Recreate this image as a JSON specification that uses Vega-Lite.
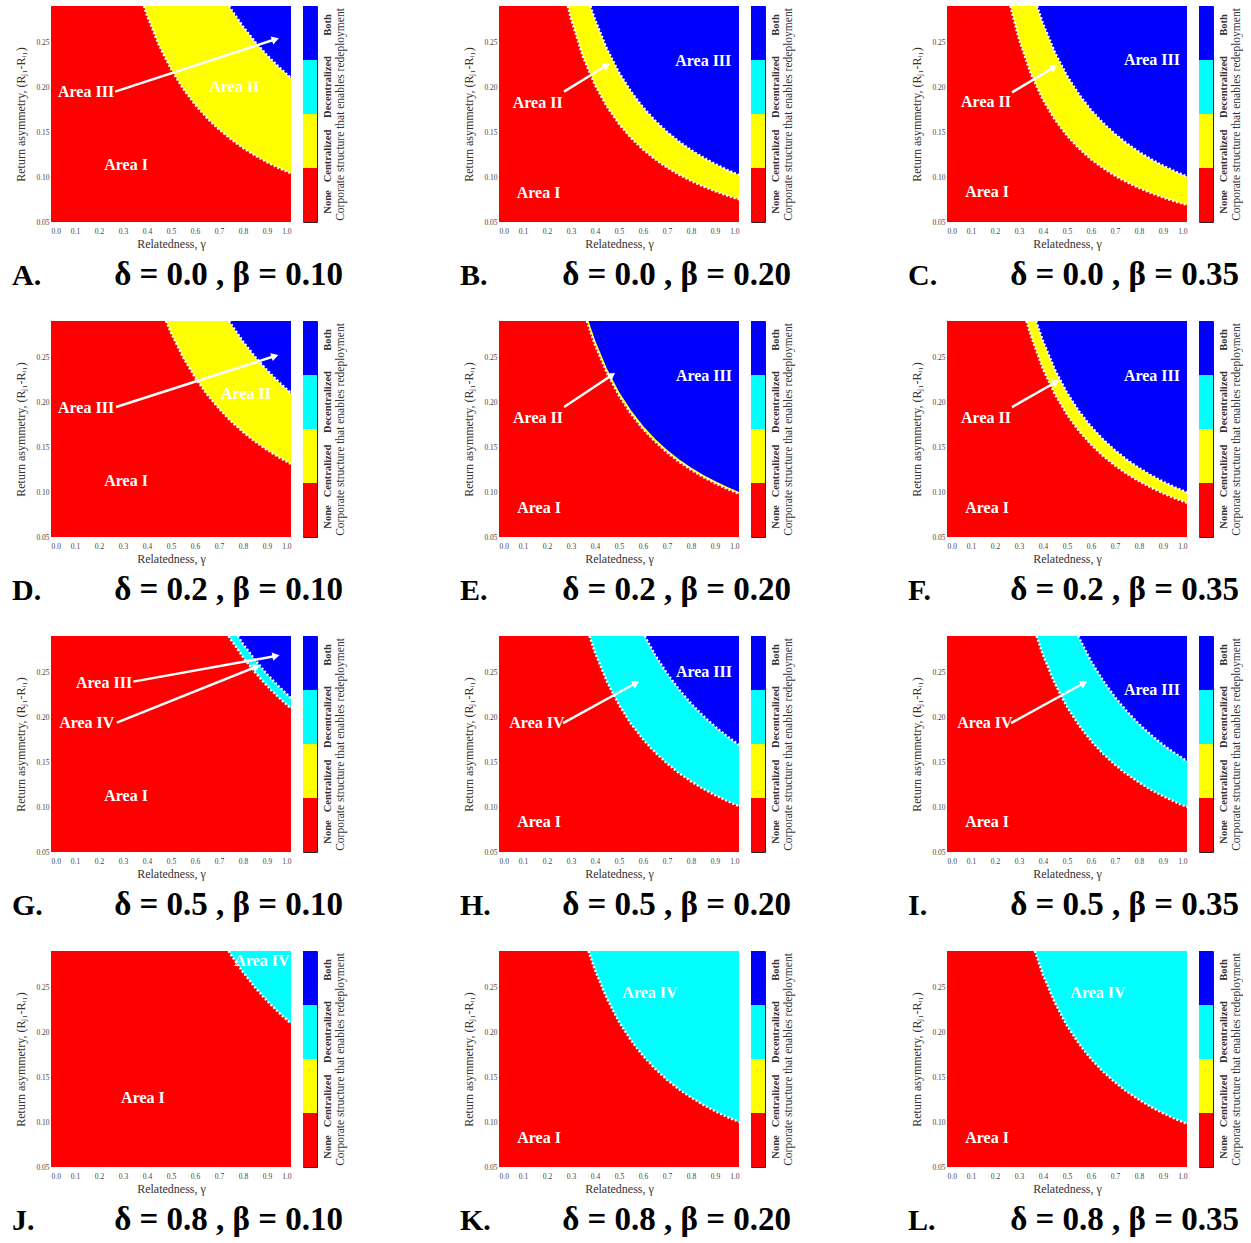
{
"$schema":"https://vega.github.io/schema/vega-lite/v6.json",
"background":"#ffffff",
"padding":{"left":12,"top":5,"right":0,"bottom":0},
"config":{"font":"Liberation Serif","view":{"stroke":null},
"axis":{"grid":false,"ticks":false,"domain":false,"labelOverlap":false,"labelFont":"Liberation Serif","titleFont":"Liberation Serif","labelColor":"#444444","titleColor":"#333333","titleFontWeight":"normal"},
"axisBottom":{"labelFontSize":7.5,"labelPadding":5,"titleFontSize":12,"titlePadding":4},
"axisLeft":{"labelFontSize":7.5,"labelPadding":2,"titleFontSize":12,"titlePadding":8},
"axisRight":{"labelFontSize":10.5,"labelFontWeight":"bold","labelAngle":270,"labelAlign":"center","labelBaseline":"top","labelPadding":5,"labelColor":"#333333","titleFontSize":11.5,"titleAngle":270,"titleBaseline":"top","titlePadding":2}},
"datasets":{
"structures":[{"s":"None"},{"s":"Centralized"},{"s":"Decentralized"},{"s":"Both"}],
"curves":[
{"p":"A","c":1,"x":0.387,"y":0.29},{"p":"A","c":1,"x":0.4,"y":0.2798},{"p":"A","c":1,"x":0.45,"y":0.2464},{"p":"A","c":1,"x":0.5,"y":0.2199},{"p":"A","c":1,"x":0.55,"y":0.1983},{"p":"A","c":1,"x":0.6,"y":0.1805},{"p":"A","c":1,"x":0.65,"y":0.1656},{"p":"A","c":1,"x":0.7,"y":0.1529},{"p":"A","c":1,"x":0.75,"y":0.1419},{"p":"A","c":1,"x":0.8,"y":0.1323},{"p":"A","c":1,"x":0.85,"y":0.1239},{"p":"A","c":1,"x":0.9,"y":0.1165},{"p":"A","c":1,"x":0.95,"y":0.1099},{"p":"A","c":1,"x":1,"y":0.104},
{"p":"A","c":2,"x":0.742,"y":0.29},{"p":"A","c":2,"x":0.75,"y":0.2865},{"p":"A","c":2,"x":0.8,"y":0.2672},{"p":"A","c":2,"x":0.85,"y":0.2503},{"p":"A","c":2,"x":0.9,"y":0.2353},{"p":"A","c":2,"x":0.95,"y":0.222},{"p":"A","c":2,"x":1,"y":0.21},
{"p":"B","c":1,"x":0.287,"y":0.29},{"p":"B","c":1,"x":0.3,"y":0.276},{"p":"B","c":1,"x":0.35,"y":0.2336},{"p":"B","c":1,"x":0.4,"y":0.2023},{"p":"B","c":1,"x":0.45,"y":0.1781},{"p":"B","c":1,"x":0.5,"y":0.159},{"p":"B","c":1,"x":0.55,"y":0.1434},{"p":"B","c":1,"x":0.6,"y":0.1305},{"p":"B","c":1,"x":0.65,"y":0.1198},{"p":"B","c":1,"x":0.7,"y":0.1105},{"p":"B","c":1,"x":0.75,"y":0.1026},{"p":"B","c":1,"x":0.8,"y":0.0957},{"p":"B","c":1,"x":0.85,"y":0.0896},{"p":"B","c":1,"x":0.9,"y":0.0843},{"p":"B","c":1,"x":0.95,"y":0.0795},{"p":"B","c":1,"x":1,"y":0.0752},
{"p":"B","c":2,"x":0.381,"y":0.29},{"p":"B","c":2,"x":0.4,"y":0.2749},{"p":"B","c":2,"x":0.45,"y":0.2421},{"p":"B","c":2,"x":0.5,"y":0.2161},{"p":"B","c":2,"x":0.55,"y":0.1949},{"p":"B","c":2,"x":0.6,"y":0.1774},{"p":"B","c":2,"x":0.65,"y":0.1628},{"p":"B","c":2,"x":0.7,"y":0.1502},{"p":"B","c":2,"x":0.75,"y":0.1394},{"p":"B","c":2,"x":0.8,"y":0.13},{"p":"B","c":2,"x":0.85,"y":0.1218},{"p":"B","c":2,"x":0.9,"y":0.1145},{"p":"B","c":2,"x":0.95,"y":0.108},{"p":"B","c":2,"x":1,"y":0.1022},
{"p":"C","c":1,"x":0.265,"y":0.29},{"p":"C","c":1,"x":0.27,"y":0.2838},{"p":"C","c":1,"x":0.3,"y":0.2532},{"p":"C","c":1,"x":0.35,"y":0.2144},{"p":"C","c":1,"x":0.4,"y":0.1856},{"p":"C","c":1,"x":0.45,"y":0.1635},{"p":"C","c":1,"x":0.5,"y":0.1459},{"p":"C","c":1,"x":0.55,"y":0.1316},{"p":"C","c":1,"x":0.6,"y":0.1198},{"p":"C","c":1,"x":0.65,"y":0.1099},{"p":"C","c":1,"x":0.7,"y":0.1014},{"p":"C","c":1,"x":0.75,"y":0.0941},{"p":"C","c":1,"x":0.8,"y":0.0878},{"p":"C","c":1,"x":0.85,"y":0.0822},{"p":"C","c":1,"x":0.9,"y":0.0773},{"p":"C","c":1,"x":0.95,"y":0.0729},{"p":"C","c":1,"x":1,"y":0.069},
{"p":"C","c":2,"x":0.375,"y":0.29},{"p":"C","c":2,"x":0.4,"y":0.2703},{"p":"C","c":2,"x":0.45,"y":0.2381},{"p":"C","c":2,"x":0.5,"y":0.2125},{"p":"C","c":2,"x":0.55,"y":0.1917},{"p":"C","c":2,"x":0.6,"y":0.1745},{"p":"C","c":2,"x":0.65,"y":0.16},{"p":"C","c":2,"x":0.7,"y":0.1477},{"p":"C","c":2,"x":0.75,"y":0.1371},{"p":"C","c":2,"x":0.8,"y":0.1279},{"p":"C","c":2,"x":0.85,"y":0.1198},{"p":"C","c":2,"x":0.9,"y":0.1126},{"p":"C","c":2,"x":0.95,"y":0.1062},{"p":"C","c":2,"x":1,"y":0.1005},
{"p":"D","c":1,"x":0.479,"y":0.29},{"p":"D","c":1,"x":0.5,"y":0.2769},{"p":"D","c":1,"x":0.55,"y":0.2498},{"p":"D","c":1,"x":0.6,"y":0.2274},{"p":"D","c":1,"x":0.65,"y":0.2086},{"p":"D","c":1,"x":0.7,"y":0.1926},{"p":"D","c":1,"x":0.75,"y":0.1787},{"p":"D","c":1,"x":0.8,"y":0.1667},{"p":"D","c":1,"x":0.85,"y":0.1561},{"p":"D","c":1,"x":0.9,"y":0.1468},{"p":"D","c":1,"x":0.95,"y":0.1385},{"p":"D","c":1,"x":1,"y":0.131},
{"p":"D","c":2,"x":0.742,"y":0.29},{"p":"D","c":2,"x":0.75,"y":0.2865},{"p":"D","c":2,"x":0.8,"y":0.2672},{"p":"D","c":2,"x":0.85,"y":0.2503},{"p":"D","c":2,"x":0.9,"y":0.2353},{"p":"D","c":2,"x":0.95,"y":0.222},{"p":"D","c":2,"x":1,"y":0.21},
{"p":"E","c":1,"x":0.366,"y":0.29},{"p":"E","c":1,"x":0.4,"y":0.2636},{"p":"E","c":1,"x":0.45,"y":0.2322},{"p":"E","c":1,"x":0.5,"y":0.2072},{"p":"E","c":1,"x":0.55,"y":0.1869},{"p":"E","c":1,"x":0.6,"y":0.1701},{"p":"E","c":1,"x":0.65,"y":0.1561},{"p":"E","c":1,"x":0.7,"y":0.1441},{"p":"E","c":1,"x":0.75,"y":0.1337},{"p":"E","c":1,"x":0.8,"y":0.1247},{"p":"E","c":1,"x":0.85,"y":0.1168},{"p":"E","c":1,"x":0.9,"y":0.1098},{"p":"E","c":1,"x":0.95,"y":0.1036},{"p":"E","c":1,"x":1,"y":0.098},
{"p":"E","c":2,"x":0.373,"y":0.29},{"p":"E","c":2,"x":0.4,"y":0.269},{"p":"E","c":2,"x":0.45,"y":0.2369},{"p":"E","c":2,"x":0.5,"y":0.2114},{"p":"E","c":2,"x":0.55,"y":0.1907},{"p":"E","c":2,"x":0.6,"y":0.1736},{"p":"E","c":2,"x":0.65,"y":0.1593},{"p":"E","c":2,"x":0.7,"y":0.147},{"p":"E","c":2,"x":0.75,"y":0.1364},{"p":"E","c":2,"x":0.8,"y":0.1273},{"p":"E","c":2,"x":0.85,"y":0.1192},{"p":"E","c":2,"x":0.9,"y":0.1121},{"p":"E","c":2,"x":0.95,"y":0.1057},{"p":"E","c":2,"x":1,"y":0.1},
{"p":"F","c":1,"x":0.331,"y":0.29},{"p":"F","c":1,"x":0.35,"y":0.2734},{"p":"F","c":1,"x":0.4,"y":0.2367},{"p":"F","c":1,"x":0.45,"y":0.2085},{"p":"F","c":1,"x":0.5,"y":0.186},{"p":"F","c":1,"x":0.55,"y":0.1678},{"p":"F","c":1,"x":0.6,"y":0.1528},{"p":"F","c":1,"x":0.65,"y":0.1401},{"p":"F","c":1,"x":0.7,"y":0.1294},{"p":"F","c":1,"x":0.75,"y":0.1201},{"p":"F","c":1,"x":0.8,"y":0.112},{"p":"F","c":1,"x":0.85,"y":0.1049},{"p":"F","c":1,"x":0.9,"y":0.0986},{"p":"F","c":1,"x":0.95,"y":0.093},{"p":"F","c":1,"x":1,"y":0.088},
{"p":"F","c":2,"x":0.371,"y":0.29},{"p":"F","c":2,"x":0.4,"y":0.2677},{"p":"F","c":2,"x":0.45,"y":0.2357},{"p":"F","c":2,"x":0.5,"y":0.2103},{"p":"F","c":2,"x":0.55,"y":0.1897},{"p":"F","c":2,"x":0.6,"y":0.1727},{"p":"F","c":2,"x":0.65,"y":0.1585},{"p":"F","c":2,"x":0.7,"y":0.1463},{"p":"F","c":2,"x":0.75,"y":0.1358},{"p":"F","c":2,"x":0.8,"y":0.1266},{"p":"F","c":2,"x":0.85,"y":0.1186},{"p":"F","c":2,"x":0.9,"y":0.1115},{"p":"F","c":2,"x":0.95,"y":0.1052},{"p":"F","c":2,"x":1,"y":0.0995},
{"p":"G","c":1,"x":0.74,"y":0.29},{"p":"G","c":1,"x":0.75,"y":0.2858},{"p":"G","c":1,"x":0.8,"y":0.2666},{"p":"G","c":1,"x":0.85,"y":0.2497},{"p":"G","c":1,"x":0.9,"y":0.2347},{"p":"G","c":1,"x":0.95,"y":0.2214},{"p":"G","c":1,"x":1,"y":0.2095},
{"p":"G","c":2,"x":0.778,"y":0.29},{"p":"G","c":2,"x":0.8,"y":0.2812},{"p":"G","c":2,"x":0.85,"y":0.2634},{"p":"G","c":2,"x":0.9,"y":0.2476},{"p":"G","c":2,"x":0.95,"y":0.2336},{"p":"G","c":2,"x":1,"y":0.221},
{"p":"H","c":1,"x":0.377,"y":0.29},{"p":"H","c":1,"x":0.4,"y":0.2717},{"p":"H","c":1,"x":0.45,"y":0.2393},{"p":"H","c":1,"x":0.5,"y":0.2135},{"p":"H","c":1,"x":0.55,"y":0.1926},{"p":"H","c":1,"x":0.6,"y":0.1753},{"p":"H","c":1,"x":0.65,"y":0.1608},{"p":"H","c":1,"x":0.7,"y":0.1485},{"p":"H","c":1,"x":0.75,"y":0.1378},{"p":"H","c":1,"x":0.8,"y":0.1285},{"p":"H","c":1,"x":0.85,"y":0.1204},{"p":"H","c":1,"x":0.9,"y":0.1132},{"p":"H","c":1,"x":0.95,"y":0.1068},{"p":"H","c":1,"x":1,"y":0.101},
{"p":"H","c":2,"x":0.607,"y":0.29},{"p":"H","c":2,"x":0.65,"y":0.2691},{"p":"H","c":2,"x":0.7,"y":0.2484},{"p":"H","c":2,"x":0.75,"y":0.2306},{"p":"H","c":2,"x":0.8,"y":0.2151},{"p":"H","c":2,"x":0.85,"y":0.2014},{"p":"H","c":2,"x":0.9,"y":0.1894},{"p":"H","c":2,"x":0.95,"y":0.1786},{"p":"H","c":2,"x":1,"y":0.169},
{"p":"I","c":1,"x":0.373,"y":0.29},{"p":"I","c":1,"x":0.4,"y":0.269},{"p":"I","c":1,"x":0.45,"y":0.2369},{"p":"I","c":1,"x":0.5,"y":0.2114},{"p":"I","c":1,"x":0.55,"y":0.1907},{"p":"I","c":1,"x":0.6,"y":0.1736},{"p":"I","c":1,"x":0.65,"y":0.1593},{"p":"I","c":1,"x":0.7,"y":0.147},{"p":"I","c":1,"x":0.75,"y":0.1364},{"p":"I","c":1,"x":0.8,"y":0.1273},{"p":"I","c":1,"x":0.85,"y":0.1192},{"p":"I","c":1,"x":0.9,"y":0.1121},{"p":"I","c":1,"x":0.95,"y":0.1057},{"p":"I","c":1,"x":1,"y":0.1},
{"p":"I","c":2,"x":0.547,"y":0.29},{"p":"I","c":2,"x":0.55,"y":0.288},{"p":"I","c":2,"x":0.6,"y":0.2621},{"p":"I","c":2,"x":0.65,"y":0.2405},{"p":"I","c":2,"x":0.7,"y":0.222},{"p":"I","c":2,"x":0.75,"y":0.206},{"p":"I","c":2,"x":0.8,"y":0.1921},{"p":"I","c":2,"x":0.85,"y":0.18},{"p":"I","c":2,"x":0.9,"y":0.1692},{"p":"I","c":2,"x":0.95,"y":0.1596},{"p":"I","c":2,"x":1,"y":0.151},
{"p":"J","c":1,"x":0.74,"y":0.29},{"p":"J","c":1,"x":0.75,"y":0.2858},{"p":"J","c":1,"x":0.8,"y":0.2666},{"p":"J","c":1,"x":0.85,"y":0.2497},{"p":"J","c":1,"x":0.9,"y":0.2347},{"p":"J","c":1,"x":0.95,"y":0.2214},{"p":"J","c":1,"x":1,"y":0.2095},
{"p":"K","c":1,"x":0.373,"y":0.29},{"p":"K","c":1,"x":0.4,"y":0.269},{"p":"K","c":1,"x":0.45,"y":0.2369},{"p":"K","c":1,"x":0.5,"y":0.2114},{"p":"K","c":1,"x":0.55,"y":0.1907},{"p":"K","c":1,"x":0.6,"y":0.1736},{"p":"K","c":1,"x":0.65,"y":0.1593},{"p":"K","c":1,"x":0.7,"y":0.147},{"p":"K","c":1,"x":0.75,"y":0.1364},{"p":"K","c":1,"x":0.8,"y":0.1273},{"p":"K","c":1,"x":0.85,"y":0.1192},{"p":"K","c":1,"x":0.9,"y":0.1121},{"p":"K","c":1,"x":0.95,"y":0.1057},{"p":"K","c":1,"x":1,"y":0.1},
{"p":"L","c":1,"x":0.366,"y":0.29},{"p":"L","c":1,"x":0.4,"y":0.2636},{"p":"L","c":1,"x":0.45,"y":0.2322},{"p":"L","c":1,"x":0.5,"y":0.2072},{"p":"L","c":1,"x":0.55,"y":0.1869},{"p":"L","c":1,"x":0.6,"y":0.1701},{"p":"L","c":1,"x":0.65,"y":0.1561},{"p":"L","c":1,"x":0.7,"y":0.1441},{"p":"L","c":1,"x":0.75,"y":0.1337},{"p":"L","c":1,"x":0.8,"y":0.1247},{"p":"L","c":1,"x":0.85,"y":0.1168},{"p":"L","c":1,"x":0.9,"y":0.1098},{"p":"L","c":1,"x":0.95,"y":0.1036},{"p":"L","c":1,"x":1,"y":0.098}
],
"labels":[
{"p":"A","t":"Area III","x":0.146,"y":0.1948},{"p":"A","t":"Area II","x":0.764,"y":0.2},{"p":"A","t":"Area I","x":0.3125,"y":0.113},
{"p":"B","t":"Area III","x":0.851,"y":0.2289},{"p":"B","t":"Area II","x":0.161,"y":0.1826},{"p":"B","t":"Area I","x":0.165,"y":0.0819},
{"p":"C","t":"Area III","x":0.854,"y":0.23},{"p":"C","t":"Area II","x":0.1625,"y":0.1833},{"p":"C","t":"Area I","x":0.1667,"y":0.0833},
{"p":"D","t":"Area III","x":0.146,"y":0.1933},{"p":"D","t":"Area II","x":0.8125,"y":0.2089},{"p":"D","t":"Area I","x":0.3125,"y":0.1122},
{"p":"E","t":"Area III","x":0.854,"y":0.2289},{"p":"E","t":"Area II","x":0.1625,"y":0.1822},{"p":"E","t":"Area I","x":0.1667,"y":0.0822},
{"p":"F","t":"Area III","x":0.854,"y":0.2289},{"p":"F","t":"Area II","x":0.1625,"y":0.1822},{"p":"F","t":"Area I","x":0.1667,"y":0.0822},
{"p":"G","t":"Area III","x":0.221,"y":0.2374},{"p":"G","t":"Area IV","x":0.149,"y":0.1937},{"p":"G","t":"Area I","x":0.3125,"y":0.1126},
{"p":"H","t":"Area III","x":0.854,"y":0.25},{"p":"H","t":"Area IV","x":0.158,"y":0.1933},{"p":"H","t":"Area I","x":0.1667,"y":0.0833},
{"p":"I","t":"Area III","x":0.854,"y":0.23},{"p":"I","t":"Area IV","x":0.158,"y":0.1933},{"p":"I","t":"Area I","x":0.1667,"y":0.0833},
{"p":"J","t":"Area IV","x":0.879,"y":0.2789},{"p":"J","t":"Area I","x":0.383,"y":0.1267},
{"p":"K","t":"Area IV","x":0.629,"y":0.2433},{"p":"K","t":"Area I","x":0.1667,"y":0.0822},
{"p":"L","t":"Area IV","x":0.629,"y":0.2433},{"p":"L","t":"Area I","x":0.1667,"y":0.0822}
],
"arrows":[
{"p":"A","a":1,"x":0.267,"y":0.1948,"x2":0.935,"y2":0.253},
{"p":"B","a":1,"x":0.271,"y":0.1948,"x2":0.449,"y2":0.2241},
{"p":"C","a":1,"x":0.271,"y":0.194,"x2":0.446,"y2":0.222},
{"p":"D","a":1,"x":0.271,"y":0.1944,"x2":0.933,"y2":0.2511},
{"p":"E","a":1,"x":0.271,"y":0.1944,"x2":0.471,"y2":0.23},
{"p":"F","a":1,"x":0.271,"y":0.1944,"x2":0.454,"y2":0.2222},
{"p":"G","a":1,"x":0.343,"y":0.2393,"x2":0.9375,"y2":0.2678},
{"p":"G","a":2,"x":0.274,"y":0.1937,"x2":0.857,"y2":0.2559},
{"p":"H","a":1,"x":0.267,"y":0.1933,"x2":0.571,"y2":0.2378},
{"p":"I","a":1,"x":0.267,"y":0.1933,"x2":0.571,"y2":0.2378}
],
"captions":[
{"p":"A","letter":"A.","param":"δ = 0.0 ,  β = 0.10"},
{"p":"B","letter":"B.","param":"δ = 0.0 ,  β = 0.20"},
{"p":"C","letter":"C.","param":"δ = 0.0 ,  β = 0.35"},
{"p":"D","letter":"D.","param":"δ = 0.2 ,  β = 0.10"},
{"p":"E","letter":"E.","param":"δ = 0.2 ,  β = 0.20"},
{"p":"F","letter":"F.","param":"δ = 0.2 ,  β = 0.35"},
{"p":"G","letter":"G.","param":"δ = 0.5 ,  β = 0.10"},
{"p":"H","letter":"H.","param":"δ = 0.5 ,  β = 0.20"},
{"p":"I","letter":"I.","param":"δ = 0.5 ,  β = 0.35"},
{"p":"J","letter":"J.","param":"δ = 0.8 ,  β = 0.10"},
{"p":"K","letter":"K.","param":"δ = 0.8 ,  β = 0.20"},
{"p":"L","letter":"L.","param":"δ = 0.8 ,  β = 0.35"}
]
},
"vconcat":[
{"hconcat":[
{"hconcat":[
{"width":240,"height":216,"view":{"fill":"#ff0000","stroke":null},"layer":[
{"data":{"name":"curves"},"transform":[{"filter":"datum.p=='A' && datum.c==1"}],"mark":{"type":"area","color":"#ffff00","clip":true},"encoding":{"x":{"field":"x","type":"quantitative","scale":{"domain":[0,1],"nice":false,"zero":false},"axis":{"values":[0,0.1,0.2,0.3,0.4,0.5,0.6,0.7,0.8,0.9,1],"tickCount":11,"format":".1f","labelOverlap":false,"title":"Relatedness, γ"}},"y":{"field":"y","type":"quantitative","scale":{"domain":[0.05,0.29],"nice":false,"zero":false},"axis":{"values":[0.05,0.1,0.15,0.2,0.25],"tickCount":5,"format":".2f","labelOverlap":false,"title":"Return asymmetry, (Rⱼ₁-Rᵢ₁)"}},"y2":{"datum":0.29}}},
{"data":{"name":"curves"},"transform":[{"filter":"datum.p=='A' && datum.c==2"}],"mark":{"type":"area","color":"#0000ff","clip":true},"encoding":{"x":{"field":"x","type":"quantitative"},"y":{"field":"y","type":"quantitative"},"y2":{"datum":0.29}}},
{"data":{"name":"curves"},"transform":[{"filter":"datum.p=='A'"}],"mark":{"type":"line","color":"#ffffff","strokeDash":[2,2],"strokeWidth":2.5,"clip":true},"encoding":{"x":{"field":"x","type":"quantitative"},"y":{"field":"y","type":"quantitative"},"detail":{"field":"c"}}},
{"data":{"name":"arrows"},"transform":[{"filter":"datum.p=='A'"}],"mark":{"type":"rule","color":"#ffffff","strokeWidth":2.5},"encoding":{"x":{"field":"x","type":"quantitative"},"y":{"field":"y","type":"quantitative"},"x2":{"field":"x2"},"y2":{"field":"y2"}}},
{"data":{"name":"arrows"},"transform":[{"filter":"datum.p=='A'"}],"mark":{"type":"point","shape":"triangle-right","filled":true,"color":"#ffffff","opacity":1,"size":70,"angle":-18},"encoding":{"x":{"field":"x2","type":"quantitative"},"y":{"field":"y2","type":"quantitative"}}},
{"data":{"name":"labels"},"transform":[{"filter":"datum.p=='A'"}],"mark":{"type":"text","fontSize":16,"fontWeight":"bold","color":"#ffffff"},"encoding":{"x":{"field":"x","type":"quantitative"},"y":{"field":"y","type":"quantitative"},"text":{"field":"t"}}},
{"data":{"name":"captions"},"transform":[{"filter":"datum.p=='A'"}],"mark":{"type":"text","fontSize":30,"fontWeight":"bold","color":"#000000","align":"left","baseline":"alphabetic"},"encoding":{"x":{"datum":-0.1625},"y":{"datum":-0.02},"text":{"field":"letter"}}},
{"data":{"name":"captions"},"transform":[{"filter":"datum.p=='A'"}],"mark":{"type":"text","fontSize":33,"fontWeight":"bold","color":"#000000","align":"right","baseline":"alphabetic"},"encoding":{"x":{"datum":1.2167},"y":{"datum":-0.02},"text":{"field":"param"}}}
]},
{"width":14,"height":216,"data":{"name":"structures"},"view":{"stroke":"#222222","strokeWidth":1},"mark":{"type":"rect"},"encoding":{"y":{"field":"s","type":"nominal","sort":["Both","Decentralized","Centralized","None"],"scale":{"paddingInner":0,"paddingOuter":0},"axis":{"orient":"right","title":"Corporate structure that enables redeployment","labelOffset":{"condition":[{"test":"datum.value==='None'","value":7},{"test":"datum.value==='Centralized'","value":15},{"test":"datum.value==='Both'","value":-8}],"value":0}}},"color":{"field":"s","type":"nominal","scale":{"domain":["None","Centralized","Decentralized","Both"],"range":["#ff0000","#ffff00","#00ffff","#0000ff"]},"legend":null}}}
],"spacing":12,"bounds":"flush"},
{"hconcat":[
{"width":240,"height":216,"view":{"fill":"#ff0000","stroke":null},"layer":[
{"data":{"name":"curves"},"transform":[{"filter":"datum.p=='B' && datum.c==1"}],"mark":{"type":"area","color":"#ffff00","clip":true},"encoding":{"x":{"field":"x","type":"quantitative","scale":{"domain":[0,1],"nice":false,"zero":false},"axis":{"values":[0,0.1,0.2,0.3,0.4,0.5,0.6,0.7,0.8,0.9,1],"tickCount":11,"format":".1f","labelOverlap":false,"title":"Relatedness, γ"}},"y":{"field":"y","type":"quantitative","scale":{"domain":[0.05,0.29],"nice":false,"zero":false},"axis":{"values":[0.05,0.1,0.15,0.2,0.25],"tickCount":5,"format":".2f","labelOverlap":false,"title":"Return asymmetry, (Rⱼ₁-Rᵢ₁)"}},"y2":{"datum":0.29}}},
{"data":{"name":"curves"},"transform":[{"filter":"datum.p=='B' && datum.c==2"}],"mark":{"type":"area","color":"#0000ff","clip":true},"encoding":{"x":{"field":"x","type":"quantitative"},"y":{"field":"y","type":"quantitative"},"y2":{"datum":0.29}}},
{"data":{"name":"curves"},"transform":[{"filter":"datum.p=='B'"}],"mark":{"type":"line","color":"#ffffff","strokeDash":[2,2],"strokeWidth":2.5,"clip":true},"encoding":{"x":{"field":"x","type":"quantitative"},"y":{"field":"y","type":"quantitative"},"detail":{"field":"c"}}},
{"data":{"name":"arrows"},"transform":[{"filter":"datum.p=='B'"}],"mark":{"type":"rule","color":"#ffffff","strokeWidth":2.5},"encoding":{"x":{"field":"x","type":"quantitative"},"y":{"field":"y","type":"quantitative"},"x2":{"field":"x2"},"y2":{"field":"y2"}}},
{"data":{"name":"arrows"},"transform":[{"filter":"datum.p=='B'"}],"mark":{"type":"point","shape":"triangle-right","filled":true,"color":"#ffffff","opacity":1,"size":70,"angle":-32},"encoding":{"x":{"field":"x2","type":"quantitative"},"y":{"field":"y2","type":"quantitative"}}},
{"data":{"name":"labels"},"transform":[{"filter":"datum.p=='B'"}],"mark":{"type":"text","fontSize":16,"fontWeight":"bold","color":"#ffffff"},"encoding":{"x":{"field":"x","type":"quantitative"},"y":{"field":"y","type":"quantitative"},"text":{"field":"t"}}},
{"data":{"name":"captions"},"transform":[{"filter":"datum.p=='B'"}],"mark":{"type":"text","fontSize":30,"fontWeight":"bold","color":"#000000","align":"left","baseline":"alphabetic"},"encoding":{"x":{"datum":-0.1625},"y":{"datum":-0.02},"text":{"field":"letter"}}},
{"data":{"name":"captions"},"transform":[{"filter":"datum.p=='B'"}],"mark":{"type":"text","fontSize":33,"fontWeight":"bold","color":"#000000","align":"right","baseline":"alphabetic"},"encoding":{"x":{"datum":1.2167},"y":{"datum":-0.02},"text":{"field":"param"}}}
]},
{"width":14,"height":216,"data":{"name":"structures"},"view":{"stroke":"#222222","strokeWidth":1},"mark":{"type":"rect"},"encoding":{"y":{"field":"s","type":"nominal","sort":["Both","Decentralized","Centralized","None"],"scale":{"paddingInner":0,"paddingOuter":0},"axis":{"orient":"right","title":"Corporate structure that enables redeployment","labelOffset":{"condition":[{"test":"datum.value==='None'","value":7},{"test":"datum.value==='Centralized'","value":15},{"test":"datum.value==='Both'","value":-8}],"value":0}}},"color":{"field":"s","type":"nominal","scale":{"domain":["None","Centralized","Decentralized","Both"],"range":["#ff0000","#ffff00","#00ffff","#0000ff"]},"legend":null}}}
],"spacing":12,"bounds":"flush"},
{"hconcat":[
{"width":240,"height":216,"view":{"fill":"#ff0000","stroke":null},"layer":[
{"data":{"name":"curves"},"transform":[{"filter":"datum.p=='C' && datum.c==1"}],"mark":{"type":"area","color":"#ffff00","clip":true},"encoding":{"x":{"field":"x","type":"quantitative","scale":{"domain":[0,1],"nice":false,"zero":false},"axis":{"values":[0,0.1,0.2,0.3,0.4,0.5,0.6,0.7,0.8,0.9,1],"tickCount":11,"format":".1f","labelOverlap":false,"title":"Relatedness, γ"}},"y":{"field":"y","type":"quantitative","scale":{"domain":[0.05,0.29],"nice":false,"zero":false},"axis":{"values":[0.05,0.1,0.15,0.2,0.25],"tickCount":5,"format":".2f","labelOverlap":false,"title":"Return asymmetry, (Rⱼ₁-Rᵢ₁)"}},"y2":{"datum":0.29}}},
{"data":{"name":"curves"},"transform":[{"filter":"datum.p=='C' && datum.c==2"}],"mark":{"type":"area","color":"#0000ff","clip":true},"encoding":{"x":{"field":"x","type":"quantitative"},"y":{"field":"y","type":"quantitative"},"y2":{"datum":0.29}}},
{"data":{"name":"curves"},"transform":[{"filter":"datum.p=='C'"}],"mark":{"type":"line","color":"#ffffff","strokeDash":[2,2],"strokeWidth":2.5,"clip":true},"encoding":{"x":{"field":"x","type":"quantitative"},"y":{"field":"y","type":"quantitative"},"detail":{"field":"c"}}},
{"data":{"name":"arrows"},"transform":[{"filter":"datum.p=='C'"}],"mark":{"type":"rule","color":"#ffffff","strokeWidth":2.5},"encoding":{"x":{"field":"x","type":"quantitative"},"y":{"field":"y","type":"quantitative"},"x2":{"field":"x2"},"y2":{"field":"y2"}}},
{"data":{"name":"arrows"},"transform":[{"filter":"datum.p=='C'"}],"mark":{"type":"point","shape":"triangle-right","filled":true,"color":"#ffffff","opacity":1,"size":70,"angle":-31},"encoding":{"x":{"field":"x2","type":"quantitative"},"y":{"field":"y2","type":"quantitative"}}},
{"data":{"name":"labels"},"transform":[{"filter":"datum.p=='C'"}],"mark":{"type":"text","fontSize":16,"fontWeight":"bold","color":"#ffffff"},"encoding":{"x":{"field":"x","type":"quantitative"},"y":{"field":"y","type":"quantitative"},"text":{"field":"t"}}},
{"data":{"name":"captions"},"transform":[{"filter":"datum.p=='C'"}],"mark":{"type":"text","fontSize":30,"fontWeight":"bold","color":"#000000","align":"left","baseline":"alphabetic"},"encoding":{"x":{"datum":-0.1625},"y":{"datum":-0.02},"text":{"field":"letter"}}},
{"data":{"name":"captions"},"transform":[{"filter":"datum.p=='C'"}],"mark":{"type":"text","fontSize":33,"fontWeight":"bold","color":"#000000","align":"right","baseline":"alphabetic"},"encoding":{"x":{"datum":1.2167},"y":{"datum":-0.02},"text":{"field":"param"}}}
]},
{"width":14,"height":216,"data":{"name":"structures"},"view":{"stroke":"#222222","strokeWidth":1},"mark":{"type":"rect"},"encoding":{"y":{"field":"s","type":"nominal","sort":["Both","Decentralized","Centralized","None"],"scale":{"paddingInner":0,"paddingOuter":0},"axis":{"orient":"right","title":"Corporate structure that enables redeployment","labelOffset":{"condition":[{"test":"datum.value==='None'","value":7},{"test":"datum.value==='Centralized'","value":15},{"test":"datum.value==='Both'","value":-8}],"value":0}}},"color":{"field":"s","type":"nominal","scale":{"domain":["None","Centralized","Decentralized","Both"],"range":["#ff0000","#ffff00","#00ffff","#0000ff"]},"legend":null}}}
],"spacing":12,"bounds":"flush"}
],"spacing":113},
{"hconcat":[
{"hconcat":[
{"width":240,"height":216,"view":{"fill":"#ff0000","stroke":null},"layer":[
{"data":{"name":"curves"},"transform":[{"filter":"datum.p=='D' && datum.c==1"}],"mark":{"type":"area","color":"#ffff00","clip":true},"encoding":{"x":{"field":"x","type":"quantitative","scale":{"domain":[0,1],"nice":false,"zero":false},"axis":{"values":[0,0.1,0.2,0.3,0.4,0.5,0.6,0.7,0.8,0.9,1],"tickCount":11,"format":".1f","labelOverlap":false,"title":"Relatedness, γ"}},"y":{"field":"y","type":"quantitative","scale":{"domain":[0.05,0.29],"nice":false,"zero":false},"axis":{"values":[0.05,0.1,0.15,0.2,0.25],"tickCount":5,"format":".2f","labelOverlap":false,"title":"Return asymmetry, (Rⱼ₁-Rᵢ₁)"}},"y2":{"datum":0.29}}},
{"data":{"name":"curves"},"transform":[{"filter":"datum.p=='D' && datum.c==2"}],"mark":{"type":"area","color":"#0000ff","clip":true},"encoding":{"x":{"field":"x","type":"quantitative"},"y":{"field":"y","type":"quantitative"},"y2":{"datum":0.29}}},
{"data":{"name":"curves"},"transform":[{"filter":"datum.p=='D'"}],"mark":{"type":"line","color":"#ffffff","strokeDash":[2,2],"strokeWidth":2.5,"clip":true},"encoding":{"x":{"field":"x","type":"quantitative"},"y":{"field":"y","type":"quantitative"},"detail":{"field":"c"}}},
{"data":{"name":"arrows"},"transform":[{"filter":"datum.p=='D'"}],"mark":{"type":"rule","color":"#ffffff","strokeWidth":2.5},"encoding":{"x":{"field":"x","type":"quantitative"},"y":{"field":"y","type":"quantitative"},"x2":{"field":"x2"},"y2":{"field":"y2"}}},
{"data":{"name":"arrows"},"transform":[{"filter":"datum.p=='D'"}],"mark":{"type":"point","shape":"triangle-right","filled":true,"color":"#ffffff","opacity":1,"size":70,"angle":-18},"encoding":{"x":{"field":"x2","type":"quantitative"},"y":{"field":"y2","type":"quantitative"}}},
{"data":{"name":"labels"},"transform":[{"filter":"datum.p=='D'"}],"mark":{"type":"text","fontSize":16,"fontWeight":"bold","color":"#ffffff"},"encoding":{"x":{"field":"x","type":"quantitative"},"y":{"field":"y","type":"quantitative"},"text":{"field":"t"}}},
{"data":{"name":"captions"},"transform":[{"filter":"datum.p=='D'"}],"mark":{"type":"text","fontSize":30,"fontWeight":"bold","color":"#000000","align":"left","baseline":"alphabetic"},"encoding":{"x":{"datum":-0.1625},"y":{"datum":-0.02},"text":{"field":"letter"}}},
{"data":{"name":"captions"},"transform":[{"filter":"datum.p=='D'"}],"mark":{"type":"text","fontSize":33,"fontWeight":"bold","color":"#000000","align":"right","baseline":"alphabetic"},"encoding":{"x":{"datum":1.2167},"y":{"datum":-0.02},"text":{"field":"param"}}}
]},
{"width":14,"height":216,"data":{"name":"structures"},"view":{"stroke":"#222222","strokeWidth":1},"mark":{"type":"rect"},"encoding":{"y":{"field":"s","type":"nominal","sort":["Both","Decentralized","Centralized","None"],"scale":{"paddingInner":0,"paddingOuter":0},"axis":{"orient":"right","title":"Corporate structure that enables redeployment","labelOffset":{"condition":[{"test":"datum.value==='None'","value":7},{"test":"datum.value==='Centralized'","value":15},{"test":"datum.value==='Both'","value":-8}],"value":0}}},"color":{"field":"s","type":"nominal","scale":{"domain":["None","Centralized","Decentralized","Both"],"range":["#ff0000","#ffff00","#00ffff","#0000ff"]},"legend":null}}}
],"spacing":12,"bounds":"flush"},
{"hconcat":[
{"width":240,"height":216,"view":{"fill":"#ff0000","stroke":null},"layer":[
{"data":{"name":"curves"},"transform":[{"filter":"datum.p=='E' && datum.c==1"}],"mark":{"type":"area","color":"#ffff00","clip":true},"encoding":{"x":{"field":"x","type":"quantitative","scale":{"domain":[0,1],"nice":false,"zero":false},"axis":{"values":[0,0.1,0.2,0.3,0.4,0.5,0.6,0.7,0.8,0.9,1],"tickCount":11,"format":".1f","labelOverlap":false,"title":"Relatedness, γ"}},"y":{"field":"y","type":"quantitative","scale":{"domain":[0.05,0.29],"nice":false,"zero":false},"axis":{"values":[0.05,0.1,0.15,0.2,0.25],"tickCount":5,"format":".2f","labelOverlap":false,"title":"Return asymmetry, (Rⱼ₁-Rᵢ₁)"}},"y2":{"datum":0.29}}},
{"data":{"name":"curves"},"transform":[{"filter":"datum.p=='E' && datum.c==2"}],"mark":{"type":"area","color":"#0000ff","clip":true},"encoding":{"x":{"field":"x","type":"quantitative"},"y":{"field":"y","type":"quantitative"},"y2":{"datum":0.29}}},
{"data":{"name":"curves"},"transform":[{"filter":"datum.p=='E' && datum.c==1"}],"mark":{"type":"line","color":"#ffffff","strokeDash":[2,2],"strokeWidth":2.5,"clip":true},"encoding":{"x":{"field":"x","type":"quantitative"},"y":{"field":"y","type":"quantitative"},"detail":{"field":"c"}}},
{"data":{"name":"arrows"},"transform":[{"filter":"datum.p=='E'"}],"mark":{"type":"rule","color":"#ffffff","strokeWidth":2.5},"encoding":{"x":{"field":"x","type":"quantitative"},"y":{"field":"y","type":"quantitative"},"x2":{"field":"x2"},"y2":{"field":"y2"}}},
{"data":{"name":"arrows"},"transform":[{"filter":"datum.p=='E'"}],"mark":{"type":"point","shape":"triangle-right","filled":true,"color":"#ffffff","opacity":1,"size":70,"angle":-34},"encoding":{"x":{"field":"x2","type":"quantitative"},"y":{"field":"y2","type":"quantitative"}}},
{"data":{"name":"labels"},"transform":[{"filter":"datum.p=='E'"}],"mark":{"type":"text","fontSize":16,"fontWeight":"bold","color":"#ffffff"},"encoding":{"x":{"field":"x","type":"quantitative"},"y":{"field":"y","type":"quantitative"},"text":{"field":"t"}}},
{"data":{"name":"captions"},"transform":[{"filter":"datum.p=='E'"}],"mark":{"type":"text","fontSize":30,"fontWeight":"bold","color":"#000000","align":"left","baseline":"alphabetic"},"encoding":{"x":{"datum":-0.1625},"y":{"datum":-0.02},"text":{"field":"letter"}}},
{"data":{"name":"captions"},"transform":[{"filter":"datum.p=='E'"}],"mark":{"type":"text","fontSize":33,"fontWeight":"bold","color":"#000000","align":"right","baseline":"alphabetic"},"encoding":{"x":{"datum":1.2167},"y":{"datum":-0.02},"text":{"field":"param"}}}
]},
{"width":14,"height":216,"data":{"name":"structures"},"view":{"stroke":"#222222","strokeWidth":1},"mark":{"type":"rect"},"encoding":{"y":{"field":"s","type":"nominal","sort":["Both","Decentralized","Centralized","None"],"scale":{"paddingInner":0,"paddingOuter":0},"axis":{"orient":"right","title":"Corporate structure that enables redeployment","labelOffset":{"condition":[{"test":"datum.value==='None'","value":7},{"test":"datum.value==='Centralized'","value":15},{"test":"datum.value==='Both'","value":-8}],"value":0}}},"color":{"field":"s","type":"nominal","scale":{"domain":["None","Centralized","Decentralized","Both"],"range":["#ff0000","#ffff00","#00ffff","#0000ff"]},"legend":null}}}
],"spacing":12,"bounds":"flush"},
{"hconcat":[
{"width":240,"height":216,"view":{"fill":"#ff0000","stroke":null},"layer":[
{"data":{"name":"curves"},"transform":[{"filter":"datum.p=='F' && datum.c==1"}],"mark":{"type":"area","color":"#ffff00","clip":true},"encoding":{"x":{"field":"x","type":"quantitative","scale":{"domain":[0,1],"nice":false,"zero":false},"axis":{"values":[0,0.1,0.2,0.3,0.4,0.5,0.6,0.7,0.8,0.9,1],"tickCount":11,"format":".1f","labelOverlap":false,"title":"Relatedness, γ"}},"y":{"field":"y","type":"quantitative","scale":{"domain":[0.05,0.29],"nice":false,"zero":false},"axis":{"values":[0.05,0.1,0.15,0.2,0.25],"tickCount":5,"format":".2f","labelOverlap":false,"title":"Return asymmetry, (Rⱼ₁-Rᵢ₁)"}},"y2":{"datum":0.29}}},
{"data":{"name":"curves"},"transform":[{"filter":"datum.p=='F' && datum.c==2"}],"mark":{"type":"area","color":"#0000ff","clip":true},"encoding":{"x":{"field":"x","type":"quantitative"},"y":{"field":"y","type":"quantitative"},"y2":{"datum":0.29}}},
{"data":{"name":"curves"},"transform":[{"filter":"datum.p=='F'"}],"mark":{"type":"line","color":"#ffffff","strokeDash":[2,2],"strokeWidth":2.5,"clip":true},"encoding":{"x":{"field":"x","type":"quantitative"},"y":{"field":"y","type":"quantitative"},"detail":{"field":"c"}}},
{"data":{"name":"arrows"},"transform":[{"filter":"datum.p=='F'"}],"mark":{"type":"rule","color":"#ffffff","strokeWidth":2.5},"encoding":{"x":{"field":"x","type":"quantitative"},"y":{"field":"y","type":"quantitative"},"x2":{"field":"x2"},"y2":{"field":"y2"}}},
{"data":{"name":"arrows"},"transform":[{"filter":"datum.p=='F'"}],"mark":{"type":"point","shape":"triangle-right","filled":true,"color":"#ffffff","opacity":1,"size":70,"angle":-30},"encoding":{"x":{"field":"x2","type":"quantitative"},"y":{"field":"y2","type":"quantitative"}}},
{"data":{"name":"labels"},"transform":[{"filter":"datum.p=='F'"}],"mark":{"type":"text","fontSize":16,"fontWeight":"bold","color":"#ffffff"},"encoding":{"x":{"field":"x","type":"quantitative"},"y":{"field":"y","type":"quantitative"},"text":{"field":"t"}}},
{"data":{"name":"captions"},"transform":[{"filter":"datum.p=='F'"}],"mark":{"type":"text","fontSize":30,"fontWeight":"bold","color":"#000000","align":"left","baseline":"alphabetic"},"encoding":{"x":{"datum":-0.1625},"y":{"datum":-0.02},"text":{"field":"letter"}}},
{"data":{"name":"captions"},"transform":[{"filter":"datum.p=='F'"}],"mark":{"type":"text","fontSize":33,"fontWeight":"bold","color":"#000000","align":"right","baseline":"alphabetic"},"encoding":{"x":{"datum":1.2167},"y":{"datum":-0.02},"text":{"field":"param"}}}
]},
{"width":14,"height":216,"data":{"name":"structures"},"view":{"stroke":"#222222","strokeWidth":1},"mark":{"type":"rect"},"encoding":{"y":{"field":"s","type":"nominal","sort":["Both","Decentralized","Centralized","None"],"scale":{"paddingInner":0,"paddingOuter":0},"axis":{"orient":"right","title":"Corporate structure that enables redeployment","labelOffset":{"condition":[{"test":"datum.value==='None'","value":7},{"test":"datum.value==='Centralized'","value":15},{"test":"datum.value==='Both'","value":-8}],"value":0}}},"color":{"field":"s","type":"nominal","scale":{"domain":["None","Centralized","Decentralized","Both"],"range":["#ff0000","#ffff00","#00ffff","#0000ff"]},"legend":null}}}
],"spacing":12,"bounds":"flush"}
],"spacing":113},
{"hconcat":[
{"hconcat":[
{"width":240,"height":216,"view":{"fill":"#ff0000","stroke":null},"layer":[
{"data":{"name":"curves"},"transform":[{"filter":"datum.p=='G' && datum.c==1"}],"mark":{"type":"area","color":"#00ffff","clip":true},"encoding":{"x":{"field":"x","type":"quantitative","scale":{"domain":[0,1],"nice":false,"zero":false},"axis":{"values":[0,0.1,0.2,0.3,0.4,0.5,0.6,0.7,0.8,0.9,1],"tickCount":11,"format":".1f","labelOverlap":false,"title":"Relatedness, γ"}},"y":{"field":"y","type":"quantitative","scale":{"domain":[0.05,0.29],"nice":false,"zero":false},"axis":{"values":[0.05,0.1,0.15,0.2,0.25],"tickCount":5,"format":".2f","labelOverlap":false,"title":"Return asymmetry, (Rⱼ₁-Rᵢ₁)"}},"y2":{"datum":0.29}}},
{"data":{"name":"curves"},"transform":[{"filter":"datum.p=='G' && datum.c==2"}],"mark":{"type":"area","color":"#0000ff","clip":true},"encoding":{"x":{"field":"x","type":"quantitative"},"y":{"field":"y","type":"quantitative"},"y2":{"datum":0.29}}},
{"data":{"name":"curves"},"transform":[{"filter":"datum.p=='G'"}],"mark":{"type":"line","color":"#ffffff","strokeDash":[2,2],"strokeWidth":2.5,"clip":true},"encoding":{"x":{"field":"x","type":"quantitative"},"y":{"field":"y","type":"quantitative"},"detail":{"field":"c"}}},
{"data":{"name":"arrows"},"transform":[{"filter":"datum.p=='G'"}],"mark":{"type":"rule","color":"#ffffff","strokeWidth":2.5},"encoding":{"x":{"field":"x","type":"quantitative"},"y":{"field":"y","type":"quantitative"},"x2":{"field":"x2"},"y2":{"field":"y2"}}},
{"data":{"name":"arrows"},"transform":[{"filter":"datum.p=='G' && datum.a==1"}],"mark":{"type":"point","shape":"triangle-right","filled":true,"color":"#ffffff","opacity":1,"size":70,"angle":-10},"encoding":{"x":{"field":"x2","type":"quantitative"},"y":{"field":"y2","type":"quantitative"}}},
{"data":{"name":"arrows"},"transform":[{"filter":"datum.p=='G' && datum.a==2"}],"mark":{"type":"point","shape":"triangle-right","filled":true,"color":"#ffffff","opacity":1,"size":70,"angle":-22},"encoding":{"x":{"field":"x2","type":"quantitative"},"y":{"field":"y2","type":"quantitative"}}},
{"data":{"name":"labels"},"transform":[{"filter":"datum.p=='G'"}],"mark":{"type":"text","fontSize":16,"fontWeight":"bold","color":"#ffffff"},"encoding":{"x":{"field":"x","type":"quantitative"},"y":{"field":"y","type":"quantitative"},"text":{"field":"t"}}},
{"data":{"name":"captions"},"transform":[{"filter":"datum.p=='G'"}],"mark":{"type":"text","fontSize":30,"fontWeight":"bold","color":"#000000","align":"left","baseline":"alphabetic"},"encoding":{"x":{"datum":-0.1625},"y":{"datum":-0.02},"text":{"field":"letter"}}},
{"data":{"name":"captions"},"transform":[{"filter":"datum.p=='G'"}],"mark":{"type":"text","fontSize":33,"fontWeight":"bold","color":"#000000","align":"right","baseline":"alphabetic"},"encoding":{"x":{"datum":1.2167},"y":{"datum":-0.02},"text":{"field":"param"}}}
]},
{"width":14,"height":216,"data":{"name":"structures"},"view":{"stroke":"#222222","strokeWidth":1},"mark":{"type":"rect"},"encoding":{"y":{"field":"s","type":"nominal","sort":["Both","Decentralized","Centralized","None"],"scale":{"paddingInner":0,"paddingOuter":0},"axis":{"orient":"right","title":"Corporate structure that enables redeployment","labelOffset":{"condition":[{"test":"datum.value==='None'","value":7},{"test":"datum.value==='Centralized'","value":15},{"test":"datum.value==='Both'","value":-8}],"value":0}}},"color":{"field":"s","type":"nominal","scale":{"domain":["None","Centralized","Decentralized","Both"],"range":["#ff0000","#ffff00","#00ffff","#0000ff"]},"legend":null}}}
],"spacing":12,"bounds":"flush"},
{"hconcat":[
{"width":240,"height":216,"view":{"fill":"#ff0000","stroke":null},"layer":[
{"data":{"name":"curves"},"transform":[{"filter":"datum.p=='H' && datum.c==1"}],"mark":{"type":"area","color":"#00ffff","clip":true},"encoding":{"x":{"field":"x","type":"quantitative","scale":{"domain":[0,1],"nice":false,"zero":false},"axis":{"values":[0,0.1,0.2,0.3,0.4,0.5,0.6,0.7,0.8,0.9,1],"tickCount":11,"format":".1f","labelOverlap":false,"title":"Relatedness, γ"}},"y":{"field":"y","type":"quantitative","scale":{"domain":[0.05,0.29],"nice":false,"zero":false},"axis":{"values":[0.05,0.1,0.15,0.2,0.25],"tickCount":5,"format":".2f","labelOverlap":false,"title":"Return asymmetry, (Rⱼ₁-Rᵢ₁)"}},"y2":{"datum":0.29}}},
{"data":{"name":"curves"},"transform":[{"filter":"datum.p=='H' && datum.c==2"}],"mark":{"type":"area","color":"#0000ff","clip":true},"encoding":{"x":{"field":"x","type":"quantitative"},"y":{"field":"y","type":"quantitative"},"y2":{"datum":0.29}}},
{"data":{"name":"curves"},"transform":[{"filter":"datum.p=='H'"}],"mark":{"type":"line","color":"#ffffff","strokeDash":[2,2],"strokeWidth":2.5,"clip":true},"encoding":{"x":{"field":"x","type":"quantitative"},"y":{"field":"y","type":"quantitative"},"detail":{"field":"c"}}},
{"data":{"name":"arrows"},"transform":[{"filter":"datum.p=='H'"}],"mark":{"type":"rule","color":"#ffffff","strokeWidth":2.5},"encoding":{"x":{"field":"x","type":"quantitative"},"y":{"field":"y","type":"quantitative"},"x2":{"field":"x2"},"y2":{"field":"y2"}}},
{"data":{"name":"arrows"},"transform":[{"filter":"datum.p=='H'"}],"mark":{"type":"point","shape":"triangle-right","filled":true,"color":"#ffffff","opacity":1,"size":70,"angle":-29},"encoding":{"x":{"field":"x2","type":"quantitative"},"y":{"field":"y2","type":"quantitative"}}},
{"data":{"name":"labels"},"transform":[{"filter":"datum.p=='H'"}],"mark":{"type":"text","fontSize":16,"fontWeight":"bold","color":"#ffffff"},"encoding":{"x":{"field":"x","type":"quantitative"},"y":{"field":"y","type":"quantitative"},"text":{"field":"t"}}},
{"data":{"name":"captions"},"transform":[{"filter":"datum.p=='H'"}],"mark":{"type":"text","fontSize":30,"fontWeight":"bold","color":"#000000","align":"left","baseline":"alphabetic"},"encoding":{"x":{"datum":-0.1625},"y":{"datum":-0.02},"text":{"field":"letter"}}},
{"data":{"name":"captions"},"transform":[{"filter":"datum.p=='H'"}],"mark":{"type":"text","fontSize":33,"fontWeight":"bold","color":"#000000","align":"right","baseline":"alphabetic"},"encoding":{"x":{"datum":1.2167},"y":{"datum":-0.02},"text":{"field":"param"}}}
]},
{"width":14,"height":216,"data":{"name":"structures"},"view":{"stroke":"#222222","strokeWidth":1},"mark":{"type":"rect"},"encoding":{"y":{"field":"s","type":"nominal","sort":["Both","Decentralized","Centralized","None"],"scale":{"paddingInner":0,"paddingOuter":0},"axis":{"orient":"right","title":"Corporate structure that enables redeployment","labelOffset":{"condition":[{"test":"datum.value==='None'","value":7},{"test":"datum.value==='Centralized'","value":15},{"test":"datum.value==='Both'","value":-8}],"value":0}}},"color":{"field":"s","type":"nominal","scale":{"domain":["None","Centralized","Decentralized","Both"],"range":["#ff0000","#ffff00","#00ffff","#0000ff"]},"legend":null}}}
],"spacing":12,"bounds":"flush"},
{"hconcat":[
{"width":240,"height":216,"view":{"fill":"#ff0000","stroke":null},"layer":[
{"data":{"name":"curves"},"transform":[{"filter":"datum.p=='I' && datum.c==1"}],"mark":{"type":"area","color":"#00ffff","clip":true},"encoding":{"x":{"field":"x","type":"quantitative","scale":{"domain":[0,1],"nice":false,"zero":false},"axis":{"values":[0,0.1,0.2,0.3,0.4,0.5,0.6,0.7,0.8,0.9,1],"tickCount":11,"format":".1f","labelOverlap":false,"title":"Relatedness, γ"}},"y":{"field":"y","type":"quantitative","scale":{"domain":[0.05,0.29],"nice":false,"zero":false},"axis":{"values":[0.05,0.1,0.15,0.2,0.25],"tickCount":5,"format":".2f","labelOverlap":false,"title":"Return asymmetry, (Rⱼ₁-Rᵢ₁)"}},"y2":{"datum":0.29}}},
{"data":{"name":"curves"},"transform":[{"filter":"datum.p=='I' && datum.c==2"}],"mark":{"type":"area","color":"#0000ff","clip":true},"encoding":{"x":{"field":"x","type":"quantitative"},"y":{"field":"y","type":"quantitative"},"y2":{"datum":0.29}}},
{"data":{"name":"curves"},"transform":[{"filter":"datum.p=='I'"}],"mark":{"type":"line","color":"#ffffff","strokeDash":[2,2],"strokeWidth":2.5,"clip":true},"encoding":{"x":{"field":"x","type":"quantitative"},"y":{"field":"y","type":"quantitative"},"detail":{"field":"c"}}},
{"data":{"name":"arrows"},"transform":[{"filter":"datum.p=='I'"}],"mark":{"type":"rule","color":"#ffffff","strokeWidth":2.5},"encoding":{"x":{"field":"x","type":"quantitative"},"y":{"field":"y","type":"quantitative"},"x2":{"field":"x2"},"y2":{"field":"y2"}}},
{"data":{"name":"arrows"},"transform":[{"filter":"datum.p=='I'"}],"mark":{"type":"point","shape":"triangle-right","filled":true,"color":"#ffffff","opacity":1,"size":70,"angle":-29},"encoding":{"x":{"field":"x2","type":"quantitative"},"y":{"field":"y2","type":"quantitative"}}},
{"data":{"name":"labels"},"transform":[{"filter":"datum.p=='I'"}],"mark":{"type":"text","fontSize":16,"fontWeight":"bold","color":"#ffffff"},"encoding":{"x":{"field":"x","type":"quantitative"},"y":{"field":"y","type":"quantitative"},"text":{"field":"t"}}},
{"data":{"name":"captions"},"transform":[{"filter":"datum.p=='I'"}],"mark":{"type":"text","fontSize":30,"fontWeight":"bold","color":"#000000","align":"left","baseline":"alphabetic"},"encoding":{"x":{"datum":-0.1625},"y":{"datum":-0.02},"text":{"field":"letter"}}},
{"data":{"name":"captions"},"transform":[{"filter":"datum.p=='I'"}],"mark":{"type":"text","fontSize":33,"fontWeight":"bold","color":"#000000","align":"right","baseline":"alphabetic"},"encoding":{"x":{"datum":1.2167},"y":{"datum":-0.02},"text":{"field":"param"}}}
]},
{"width":14,"height":216,"data":{"name":"structures"},"view":{"stroke":"#222222","strokeWidth":1},"mark":{"type":"rect"},"encoding":{"y":{"field":"s","type":"nominal","sort":["Both","Decentralized","Centralized","None"],"scale":{"paddingInner":0,"paddingOuter":0},"axis":{"orient":"right","title":"Corporate structure that enables redeployment","labelOffset":{"condition":[{"test":"datum.value==='None'","value":7},{"test":"datum.value==='Centralized'","value":15},{"test":"datum.value==='Both'","value":-8}],"value":0}}},"color":{"field":"s","type":"nominal","scale":{"domain":["None","Centralized","Decentralized","Both"],"range":["#ff0000","#ffff00","#00ffff","#0000ff"]},"legend":null}}}
],"spacing":12,"bounds":"flush"}
],"spacing":113},
{"hconcat":[
{"hconcat":[
{"width":240,"height":216,"view":{"fill":"#ff0000","stroke":null},"layer":[
{"data":{"name":"curves"},"transform":[{"filter":"datum.p=='J' && datum.c==1"}],"mark":{"type":"area","color":"#00ffff","clip":true},"encoding":{"x":{"field":"x","type":"quantitative","scale":{"domain":[0,1],"nice":false,"zero":false},"axis":{"values":[0,0.1,0.2,0.3,0.4,0.5,0.6,0.7,0.8,0.9,1],"tickCount":11,"format":".1f","labelOverlap":false,"title":"Relatedness, γ"}},"y":{"field":"y","type":"quantitative","scale":{"domain":[0.05,0.29],"nice":false,"zero":false},"axis":{"values":[0.05,0.1,0.15,0.2,0.25],"tickCount":5,"format":".2f","labelOverlap":false,"title":"Return asymmetry, (Rⱼ₁-Rᵢ₁)"}},"y2":{"datum":0.29}}},
{"data":{"name":"curves"},"transform":[{"filter":"datum.p=='J'"}],"mark":{"type":"line","color":"#ffffff","strokeDash":[2,2],"strokeWidth":2.5,"clip":true},"encoding":{"x":{"field":"x","type":"quantitative"},"y":{"field":"y","type":"quantitative"},"detail":{"field":"c"}}},
{"data":{"name":"labels"},"transform":[{"filter":"datum.p=='J'"}],"mark":{"type":"text","fontSize":16,"fontWeight":"bold","color":"#ffffff"},"encoding":{"x":{"field":"x","type":"quantitative"},"y":{"field":"y","type":"quantitative"},"text":{"field":"t"}}},
{"data":{"name":"captions"},"transform":[{"filter":"datum.p=='J'"}],"mark":{"type":"text","fontSize":30,"fontWeight":"bold","color":"#000000","align":"left","baseline":"alphabetic"},"encoding":{"x":{"datum":-0.1625},"y":{"datum":-0.02},"text":{"field":"letter"}}},
{"data":{"name":"captions"},"transform":[{"filter":"datum.p=='J'"}],"mark":{"type":"text","fontSize":33,"fontWeight":"bold","color":"#000000","align":"right","baseline":"alphabetic"},"encoding":{"x":{"datum":1.2167},"y":{"datum":-0.02},"text":{"field":"param"}}}
]},
{"width":14,"height":216,"data":{"name":"structures"},"view":{"stroke":"#222222","strokeWidth":1},"mark":{"type":"rect"},"encoding":{"y":{"field":"s","type":"nominal","sort":["Both","Decentralized","Centralized","None"],"scale":{"paddingInner":0,"paddingOuter":0},"axis":{"orient":"right","title":"Corporate structure that enables redeployment","labelOffset":{"condition":[{"test":"datum.value==='None'","value":7},{"test":"datum.value==='Centralized'","value":15},{"test":"datum.value==='Both'","value":-8}],"value":0}}},"color":{"field":"s","type":"nominal","scale":{"domain":["None","Centralized","Decentralized","Both"],"range":["#ff0000","#ffff00","#00ffff","#0000ff"]},"legend":null}}}
],"spacing":12,"bounds":"flush"},
{"hconcat":[
{"width":240,"height":216,"view":{"fill":"#ff0000","stroke":null},"layer":[
{"data":{"name":"curves"},"transform":[{"filter":"datum.p=='K' && datum.c==1"}],"mark":{"type":"area","color":"#00ffff","clip":true},"encoding":{"x":{"field":"x","type":"quantitative","scale":{"domain":[0,1],"nice":false,"zero":false},"axis":{"values":[0,0.1,0.2,0.3,0.4,0.5,0.6,0.7,0.8,0.9,1],"tickCount":11,"format":".1f","labelOverlap":false,"title":"Relatedness, γ"}},"y":{"field":"y","type":"quantitative","scale":{"domain":[0.05,0.29],"nice":false,"zero":false},"axis":{"values":[0.05,0.1,0.15,0.2,0.25],"tickCount":5,"format":".2f","labelOverlap":false,"title":"Return asymmetry, (Rⱼ₁-Rᵢ₁)"}},"y2":{"datum":0.29}}},
{"data":{"name":"curves"},"transform":[{"filter":"datum.p=='K'"}],"mark":{"type":"line","color":"#ffffff","strokeDash":[2,2],"strokeWidth":2.5,"clip":true},"encoding":{"x":{"field":"x","type":"quantitative"},"y":{"field":"y","type":"quantitative"},"detail":{"field":"c"}}},
{"data":{"name":"labels"},"transform":[{"filter":"datum.p=='K'"}],"mark":{"type":"text","fontSize":16,"fontWeight":"bold","color":"#ffffff"},"encoding":{"x":{"field":"x","type":"quantitative"},"y":{"field":"y","type":"quantitative"},"text":{"field":"t"}}},
{"data":{"name":"captions"},"transform":[{"filter":"datum.p=='K'"}],"mark":{"type":"text","fontSize":30,"fontWeight":"bold","color":"#000000","align":"left","baseline":"alphabetic"},"encoding":{"x":{"datum":-0.1625},"y":{"datum":-0.02},"text":{"field":"letter"}}},
{"data":{"name":"captions"},"transform":[{"filter":"datum.p=='K'"}],"mark":{"type":"text","fontSize":33,"fontWeight":"bold","color":"#000000","align":"right","baseline":"alphabetic"},"encoding":{"x":{"datum":1.2167},"y":{"datum":-0.02},"text":{"field":"param"}}}
]},
{"width":14,"height":216,"data":{"name":"structures"},"view":{"stroke":"#222222","strokeWidth":1},"mark":{"type":"rect"},"encoding":{"y":{"field":"s","type":"nominal","sort":["Both","Decentralized","Centralized","None"],"scale":{"paddingInner":0,"paddingOuter":0},"axis":{"orient":"right","title":"Corporate structure that enables redeployment","labelOffset":{"condition":[{"test":"datum.value==='None'","value":7},{"test":"datum.value==='Centralized'","value":15},{"test":"datum.value==='Both'","value":-8}],"value":0}}},"color":{"field":"s","type":"nominal","scale":{"domain":["None","Centralized","Decentralized","Both"],"range":["#ff0000","#ffff00","#00ffff","#0000ff"]},"legend":null}}}
],"spacing":12,"bounds":"flush"},
{"hconcat":[
{"width":240,"height":216,"view":{"fill":"#ff0000","stroke":null},"layer":[
{"data":{"name":"curves"},"transform":[{"filter":"datum.p=='L' && datum.c==1"}],"mark":{"type":"area","color":"#00ffff","clip":true},"encoding":{"x":{"field":"x","type":"quantitative","scale":{"domain":[0,1],"nice":false,"zero":false},"axis":{"values":[0,0.1,0.2,0.3,0.4,0.5,0.6,0.7,0.8,0.9,1],"tickCount":11,"format":".1f","labelOverlap":false,"title":"Relatedness, γ"}},"y":{"field":"y","type":"quantitative","scale":{"domain":[0.05,0.29],"nice":false,"zero":false},"axis":{"values":[0.05,0.1,0.15,0.2,0.25],"tickCount":5,"format":".2f","labelOverlap":false,"title":"Return asymmetry, (Rⱼ₁-Rᵢ₁)"}},"y2":{"datum":0.29}}},
{"data":{"name":"curves"},"transform":[{"filter":"datum.p=='L'"}],"mark":{"type":"line","color":"#ffffff","strokeDash":[2,2],"strokeWidth":2.5,"clip":true},"encoding":{"x":{"field":"x","type":"quantitative"},"y":{"field":"y","type":"quantitative"},"detail":{"field":"c"}}},
{"data":{"name":"labels"},"transform":[{"filter":"datum.p=='L'"}],"mark":{"type":"text","fontSize":16,"fontWeight":"bold","color":"#ffffff"},"encoding":{"x":{"field":"x","type":"quantitative"},"y":{"field":"y","type":"quantitative"},"text":{"field":"t"}}},
{"data":{"name":"captions"},"transform":[{"filter":"datum.p=='L'"}],"mark":{"type":"text","fontSize":30,"fontWeight":"bold","color":"#000000","align":"left","baseline":"alphabetic"},"encoding":{"x":{"datum":-0.1625},"y":{"datum":-0.02},"text":{"field":"letter"}}},
{"data":{"name":"captions"},"transform":[{"filter":"datum.p=='L'"}],"mark":{"type":"text","fontSize":33,"fontWeight":"bold","color":"#000000","align":"right","baseline":"alphabetic"},"encoding":{"x":{"datum":1.2167},"y":{"datum":-0.02},"text":{"field":"param"}}}
]},
{"width":14,"height":216,"data":{"name":"structures"},"view":{"stroke":"#222222","strokeWidth":1},"mark":{"type":"rect"},"encoding":{"y":{"field":"s","type":"nominal","sort":["Both","Decentralized","Centralized","None"],"scale":{"paddingInner":0,"paddingOuter":0},"axis":{"orient":"right","title":"Corporate structure that enables redeployment","labelOffset":{"condition":[{"test":"datum.value==='None'","value":7},{"test":"datum.value==='Centralized'","value":15},{"test":"datum.value==='Both'","value":-8}],"value":0}}},"color":{"field":"s","type":"nominal","scale":{"domain":["None","Centralized","Decentralized","Both"],"range":["#ff0000","#ffff00","#00ffff","#0000ff"]},"legend":null}}}
],"spacing":12,"bounds":"flush"}
],"spacing":113}
],"spacing":28
}
